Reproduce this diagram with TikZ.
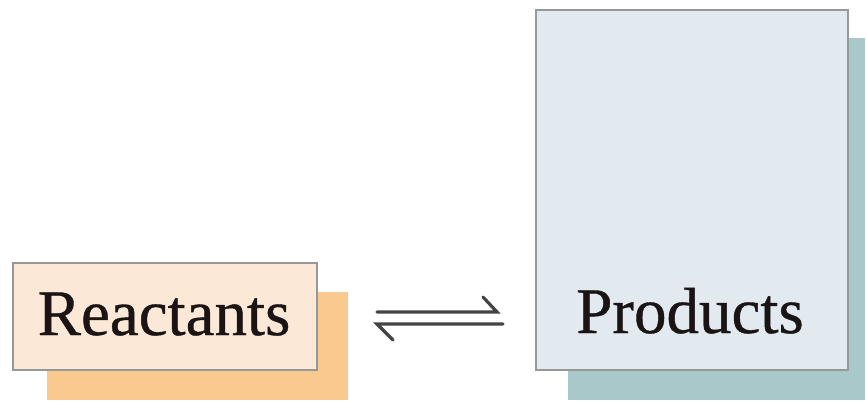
\documentclass[tikz,border=0pt]{standalone}
\usepackage{fontspec}
\setmainfont{Liberation Serif}
\newfontfamily\labelfont[FakeBold=0.6]{Liberation Serif}
\begin{document}
\begin{tikzpicture}[x=1pt,y=-1pt,
  boxframe/.style={draw=framegray,line width=2.6pt},
  label/.style={inner sep=0pt,anchor=base,font=\labelfont\fontsize{65}{70}\selectfont},
  harp/.style={draw=arrowgray,line width=3.2pt,line cap=round}]
\definecolor{framegray}{HTML}{969898}
\definecolor{reacfill}{HTML}{FCE8D6}
\definecolor{reacshadow}{HTML}{FAC990}
\definecolor{prodfill}{HTML}{E2EAF0}
\definecolor{prodshadow}{HTML}{A9C8CA}
\definecolor{arrowgray}{HTML}{444444}
\definecolor{textblack}{HTML}{1A1414}
\useasboundingbox (0,0) rectangle (866,400);
% shadows
\fill[reacshadow] (47,292) rectangle (348,400);
\fill[prodshadow] (568,38) rectangle (865,400);
% boxes
\draw[boxframe,fill=reacfill] (13,263) rectangle (317,370);
\draw[boxframe,fill=prodfill] (536,10) rectangle (848,370);
\node (Rbox) at (165,316.5) {};
\node (Pbox) at (692,190) {};
% texts
\node[label,text=textblack] (rtext) at (164,335) {Reactants};
\node[label,text=textblack] (ptext) at (690,333) {Products};
% equilibrium harpoons
\coordinate (u1) at (377,312);
\coordinate (u2) at (497,312);
\coordinate (ub) at (483,297);
\coordinate (l1) at (503,324);
\coordinate (l2) at (377,324);
\coordinate (lb) at (393,340);
\draw[harp] (u1) -- (u2) -- (ub);
\draw[harp] (l1) -- (l2) -- (lb);
\end{tikzpicture}
\end{document}
